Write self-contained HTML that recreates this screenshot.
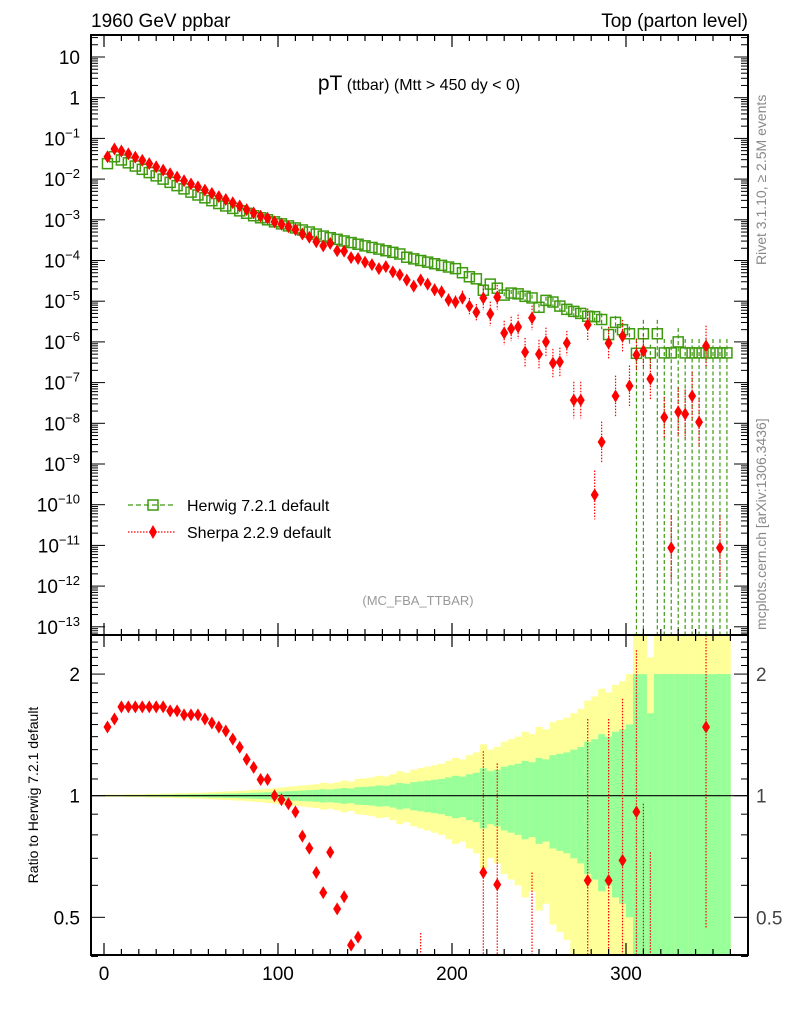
<!DOCTYPE html>
<html><head><meta charset="utf-8"><style>
body{margin:0;background:#fff;}
svg{display:block;font-family:"Liberation Sans",sans-serif;}
</style></head><body>
<svg id="c" width="786" height="1024" viewBox="0 0 786 1024" xmlns="http://www.w3.org/2000/svg">
<text x="91" y="27" font-size="19">1960 GeV ppbar</text>
<text x="748" y="27" font-size="19" text-anchor="end">Top (parton level)</text>
<text x="419" y="90" text-anchor="middle"><tspan font-size="21">pT</tspan><tspan font-size="16"> (ttbar) (Mtt &gt; 450 dy &lt; 0)</tspan></text>
<text x="418" y="605" font-size="13" fill="#999" text-anchor="middle">(MC_FBA_TTBAR)</text>
<text transform="translate(766,265) rotate(-90)" font-size="14" fill="#888">Rivet 3.1.10, ≥ 2.5M events</text>
<text transform="translate(766,630) rotate(-90)" font-size="14" fill="#888">mcplots.cern.ch [arXiv:1306.3436]</text>
<text transform="translate(38,795) rotate(-90)" font-size="14" text-anchor="middle">Ratio to Herwig 7.2.1 default</text>
<g id="bands"></g><g id="marks"></g><g id="axes"></g>
<g>
<line x1="128" y1="505" x2="176" y2="505" stroke="#3f9a0f" stroke-dasharray="5,3" stroke-width="1.2"/>
<rect x="148" y="500" width="10" height="10" fill="none" stroke="#3f9a0f" stroke-width="1.5"/>
<text x="187" y="511" font-size="16">Herwig 7.2.1 default</text>
<line x1="128" y1="532" x2="176" y2="532" stroke="#f00" stroke-dasharray="1.5,1.5" stroke-width="1.2"/>
<path d="M153,525 L157,532 L153,539 L149,532 Z" fill="#f00"/>
<text x="187" y="538" font-size="16">Sherpa 2.2.9 default</text>
</g>
</svg>
<script>
const binCenters=[];for(let i=0;i<90;i++)binCenters.push(2+4*i);
const herwigLog=[-1.62,-1.45,-1.53,-1.6,-1.68,-1.76,-1.84,-1.92,-2.0,-2.08,-2.16,-2.24,-2.32,-2.39,-2.46,-2.53,-2.6,-2.66,-2.72,-2.78,-2.84,-2.9,-2.95,-3.0,-3.05,-3.1,-3.15,-3.2,-3.25,-3.3,-3.35,-3.4,-3.44,-3.48,-3.52,-3.56,-3.6,-3.64,-3.68,-3.72,-3.76,-3.8,-3.84,-3.92,-3.96,-4.0,-4.04,-4.08,-4.12,-4.16,-4.2,-4.3,-4.4,-4.45,-4.73,-4.58,-4.68,-4.85,-4.8,-4.82,-4.88,-4.92,-5.15,-4.98,-5.02,-5.12,-5.2,-5.25,-5.3,-5.37,-5.38,-5.45,-5.82,-5.52,-5.7,-5.8,-6.28,-5.8,-6.27,-5.8,-6.27,-6.27,-6.0,-6.27,-6.27,-6.27,-6.27,-6.27,-6.27,-6.27];
const sherpaLog=[-1.45,-1.26,-1.31,-1.38,-1.46,-1.54,-1.62,-1.7,-1.78,-1.87,-1.95,-2.04,-2.12,-2.19,-2.27,-2.35,-2.43,-2.5,-2.58,-2.66,-2.75,-2.83,-2.91,-2.96,-3.05,-3.11,-3.17,-3.24,-3.35,-3.43,-3.54,-3.64,-3.58,-3.76,-3.77,-3.93,-3.95,-4.04,-4.1,-4.2,-4.15,-4.28,-4.35,-4.48,-4.63,-4.48,-4.58,-4.72,-4.77,-4.97,-5.02,-4.92,-5.12,-5.27,-4.92,-5.31,-4.9,-5.78,-5.68,-5.63,-6.25,-5.41,-6.3,-6.0,-6.52,-6.49,-6.03,-7.43,-7.43,-5.58,-9.76,-8.46,-6.03,-7.33,-5.86,-7.08,-6.32,-6.22,-6.91,null,-7.85,-11.06,-7.72,-7.77,-7.33,-7.97,-6.1,null,-11.06,null];
const herwigRelErr=[0.003,0.003,0.003,0.004,0.004,0.004,0.005,0.005,0.006,0.006,0.007,0.007,0.008,0.008,0.009,0.01,0.011,0.012,0.013,0.014,0.015,0.017,0.018,0.02,0.022,0.024,0.026,0.028,0.03,0.032,0.034,0.038,0.036,0.04,0.045,0.042,0.05,0.052,0.055,0.06,0.058,0.065,0.075,0.07,0.08,0.085,0.09,0.095,0.1,0.11,0.12,0.115,0.13,0.14,0.17,0.15,0.16,0.18,0.19,0.2,0.22,0.21,0.24,0.23,0.26,0.27,0.28,0.3,0.32,0.36,0.38,0.42,0.4,0.44,0.46,0.5,1.2,1.2,0.6,1.2,1.2,1.1,1.2,1.2,1.2,1.2,1.2,1.2,1.2,1.2];
const sherpaErrDex=[0.02,0.02,0.02,0.02,0.02,0.02,0.02,0.02,0.02,0.02,0.02,0.02,0.02,0.02,0.02,0.02,0.02,0.02,0.02,0.03,0.03,0.03,0.03,0.04,0.04,0.04,0.04,0.05,0.05,0.05,0.06,0.06,0.06,0.07,0.07,0.08,0.08,0.08,0.09,0.1,0.1,0.1,0.12,0.12,0.12,0.14,0.14,0.15,0.15,0.16,0.16,0.18,0.2,0.2,0.3,0.3,0.3,0.3,0.3,0.3,0.35,0.3,0.35,0.35,0.35,0.35,0.3,0.45,0.45,0.4,0.6,0.5,0.4,0.5,0.4,0.5,0.4,0.4,0.5,0,0.5,0.8,0.6,0.6,0.6,0.6,0.5,0,0.8,0];
const mainTicks=[1,0,-1,-2,-3,-4,-5,-6,-7,-8,-9,-10,-11,-12,-13];
const xTicks=[0,100,200,300];
const ratioTicks=[0.5,1,2];

const NS="http://www.w3.org/2000/svg";
const L=91,R=748,T=35,MB=635,RB=955;
const xs=v=>104+v*1.74;
const ym=l=>57+(1-l)*40.7;
const yr=r=>795.7-Math.log10(r)*404;
function mk(p,tag,a){const e=document.createElementNS(NS,tag);for(const k in a)e.setAttribute(k,a[k]);p.appendChild(e);return e;}
const bands=document.getElementById('bands'),marks=document.getElementById('marks'),axes=document.getElementById('axes');
const clipR=v=>Math.min(RB,Math.max(MB,v));
binCenters.forEach((c,i)=>{
  const e=herwigRelErr[i],x0=xs(c-2),w=1.74*4;
  const yu=clipR(yr(Math.min(1+2*e,3))),yl=(1-2*e)>0?clipR(yr(1-2*e)):RB;
  const y=mk(bands,'rect',{x:x0,y:yu,width:w+0.3,height:yl-yu,fill:'#ffff99'});
  
  
  const gu=clipR(yr(Math.min(1+e,2))),gl=(1-e)>0?clipR(yr(1-e)):RB;
  const g=mk(bands,'rect',{x:x0,y:gu,width:w+0.3,height:gl-gu,fill:'#99ff99'});
  
  
});
mk(bands,'line',{x1:L,x2:R,y1:yr(1),y2:yr(1),stroke:'#000','stroke-width':1.2});
const clipM=v=>Math.min(MB,Math.max(T,v));
binCenters.forEach((c,i)=>{
  const l=herwigLog[i],e=herwigRelErr[i],x=xs(c),y=ym(l);
  const yt=ym(l+Math.log10(1+e)),yb=e>=1?MB:ym(l+Math.log10(1-e));
  if(yb-yt>6){const ln=mk(marks,'line',{x1:x,x2:x,y1:clipM(yt),y2:clipM(yb),stroke:'#3f9a0f','stroke-dasharray':'4,2.5','stroke-width':1.2});
  
  }
  const r=mk(marks,'rect',{x:x-5,y:y-5,width:10,height:10,fill:'none',stroke:'#3f9a0f','stroke-width':1.5});
  
  
});
binCenters.forEach((c,i)=>{
  const l=sherpaLog[i];if(l===null)return;
  const d=sherpaErrDex[i],x=xs(c),y=ym(l);
  if(d>0.1){const ln=mk(marks,'line',{x1:x,x2:x,y1:clipM(ym(l+d)),y2:clipM(ym(l-d)),stroke:'#f00','stroke-dasharray':'1.5,1.5','stroke-width':1.2});
  
  }
  const p=mk(marks,'path',{d:`M${x},${y-6.5}L${x+4},${y}L${x},${y+6.5}L${x-4},${y}Z`,fill:'#f00'});
  
  
});
binCenters.forEach((c,i)=>{
  const l=sherpaLog[i];if(l===null)return;
  const r=Math.pow(10,l-herwigLog[i]),d=sherpaErrDex[i],x=xs(c);
  const y=yr(r);
  if(d>0.1){const ln=mk(marks,'line',{x1:x,x2:x,y1:clipR(yr(r*Math.pow(10,d))),y2:clipR(yr(r*Math.pow(10,-d))),stroke:'#f00','stroke-dasharray':'1.5,1.5','stroke-width':1.2});
  
  }
  if(y<MB+3||y>RB-3)return;
  const p=mk(marks,'path',{d:`M${x},${y-6.5}L${x+4},${y}L${x},${y+6.5}L${x-4},${y}Z`,fill:'#f00'});
  
  
});
[[T,MB],[MB,RB]].forEach(([a,b],k)=>{
  const f=mk(axes,'rect',{x:L,y:a,width:R-L,height:b-a,fill:'none',stroke:'#000','stroke-width':2});
  
  
});
for(let v=0;v<=370;v+=10){const x=xs(v),len=v%100===0?12:6;
  [[T,1],[MB,-1],[MB,1],[RB,-1]].forEach(([y0,s])=>mk(axes,'line',{x1:x,x2:x,y1:y0,y2:y0+s*len,stroke:'#000','stroke-width':1.2}));}
xTicks.forEach(v=>{const t=mk(axes,'text',{x:xs(v),y:980,'font-size':19,'text-anchor':'middle'});t.textContent=v;
  
  });
for(let k=-14;k<=1;k++){for(let m=1;m<10;m++){const l=k+Math.log10(m),y=ym(l);if(y<T||y>MB)continue;const len=m===1?14:7;
  mk(axes,'line',{x1:L,x2:L+len,y1:y,y2:y,stroke:'#000','stroke-width':1});mk(axes,'line',{x1:R,x2:R-len,y1:y,y2:y,stroke:'#000','stroke-width':1});}}
mainTicks.forEach(k=>{const t=mk(axes,'text',{x:80,y:ym(k)+7,'font-size':19,'text-anchor':'end'});
  
  
  if(k===1)t.textContent='10';else if(k===0)t.textContent='1';else{t.textContent='10';const s=mk(t,'tspan',{dy:-8,'font-size':13});s.textContent='−'+(-k);}});
for(let r=0.4;r<=2.51;r+=0.1){const y=yr(r),maj=[0.5,1,2].some(q=>Math.abs(q-r)<1e-6),len=maj?14:7;
  mk(axes,'line',{x1:L,x2:L+len,y1:y,y2:y,stroke:'#000','stroke-width':1});mk(axes,'line',{x1:R,x2:R-len,y1:y,y2:y,stroke:'#000','stroke-width':1});}
ratioTicks.forEach(r=>{[[80,'end'],[756,'start']].forEach(([x,a])=>{const t=mk(axes,'text',{x:x,y:yr(r)+7,'font-size':19,'text-anchor':a,fill:x>700?'#444':'#000'});t.textContent=r;
  
  });});
</script>
</body></html>
